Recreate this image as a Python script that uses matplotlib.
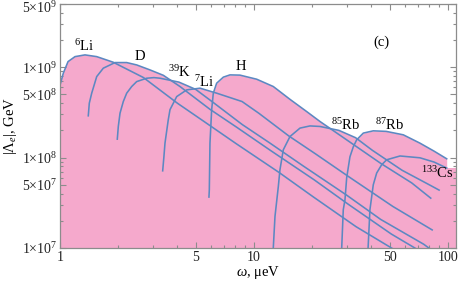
import numpy as np
import matplotlib
matplotlib.use("Agg")
import matplotlib.pyplot as plt
import matplotlib.ticker as ticker
import matplotlib.transforms as mtransforms

plt.rcParams['font.family'] = ['Liberation Serif', 'DejaVu Serif']
plt.rcParams['mathtext.fontset'] = 'custom'
plt.rcParams['mathtext.rm'] = 'Liberation Serif'
plt.rcParams['mathtext.it'] = 'Liberation Serif:italic'

# omega in micro-eV, |Lambda_e| in GeV
w_li6 = [0.98, 1.0, 1.04, 1.10, 1.195, 1.345, 1.546, 1.88, 2.69, 4.04, 5.38, 8.07, 13.45, 20.2, 33.6, 56]
L_li6 = [5.2e8, 6.31e8, 8.59e8, 1.153e9, 1.309e9, 1.368e9, 1.309e9, 1.135e9, 7.69e8, 3.98e8, 2.61e8,
         1.432e8, 6.86e7, 3.68e7, 1.72e7, 8.9e6]

w_d = [1.399, 1.416, 1.457, 1.546, 1.672, 1.921, 2.207, 2.485, 2.91, 3.41, 4.16, 5.92, 8.16, 12.24,
       20.4, 30.6, 51, 70]
L_d = [2.90e8, 4.00e8, 5.16e8, 7.87e8, 9.75e8, 1.125e9, 1.125e9, 1.059e9, 9.33e8, 8.13e8, 6.10e8,
       3.43e8, 2.16e8, 1.189e8, 5.69e7, 3.05e7, 1.429e7, 9.55e6]

w_k39 = [1.974, 1.998, 2.039, 2.12, 2.207, 2.342, 2.485, 2.80, 3.05, 3.28, 4.1, 5.0, 6.12, 8.7, 12,
         18, 30, 45, 75, 82]
L_k39 = [1.60e8, 2.21e8, 3.10e8, 4.17e8, 5.16e8, 6.11e8, 6.93e8, 7.55e8, 7.67e8, 7.55e8, 6.84e8,
         5.69e8, 4.12e8, 2.32e8, 1.462e8, 8.04e7, 3.85e7, 2.07e7, 1.10e7, 9.55e6]

w_li7 = [3.383, 3.43, 3.477, 3.615, 3.69, 3.996, 4.50, 5.27, 6.42, 8.68, 10.6, 15.1, 20.8, 31.2, 52, 82.9]
L_li7 = [7.14e7, 1.0e8, 1.445e8, 2.62e8, 3.39e8, 4.73e8, 5.61e8, 5.86e8, 5.16e8, 4.17e8, 3.09e8,
         1.738e8, 1.096e8, 6.03e7, 2.88e7, 1.585e7]

w_h = [5.86, 5.885, 5.93, 6.05, 6.17, 6.42, 6.95, 7.52, 8.47, 10.33, 12.58, 15.33, 18.69, 21.88,
       30.1, 45.1, 65, 81.5]
L_h = [3.66e7, 4.41e7, 1.445e8, 3.37e8, 5.16e8, 6.65e8, 7.76e8, 8.22e8, 8.17e8, 7.36e8, 6.11e8,
       4.41e8, 3.23e8, 2.51e8, 1.567e8, 8.61e7, 5.25e7, 3.56e7]

w_rb85 = [12.56, 12.83, 13.35, 13.61, 14.16, 15.33, 17.27, 19.44, 21.88, 27.4, 33.4, 40.8, 58, 80, 90]
L_rb85 = [9.55e6, 2.23e7, 4.79e7, 7.33e7, 1.219e8, 1.71e8, 2.12e8, 2.24e8, 2.21e8, 2.00e8, 1.66e8,
          1.202e8, 7.24e7, 5.01e7, 4.37e7]

w_rb87 = [28.3, 28.86, 29.45, 30.05, 31.24, 32.5, 33.84, 36.6, 41.2, 48, 58.85, 71.7, 85, 98.5]
L_rb87 = [9.55e6, 2.65e7, 3.42e7, 5.98e7, 1.021e8, 1.315e8, 1.574e8, 1.866e8, 1.977e8, 1.95e8,
          1.786e8, 1.445e8, 1.175e8, 9.70e7]

w_cs = [38.7, 39.3, 39.6, 41.2, 42.9, 45.5, 48.3, 56.6, 71.7, 85, 98.5]
L_cs = [9.55e6, 1.888e7, 2.65e7, 5.0e7, 6.75e7, 8.32e7, 9.46e7, 1.042e8, 9.95e7, 8.91e7, 7.66e7]

curves = [(w_li6, L_li6), (w_d, L_d), (w_k39, L_k39), (w_li7, L_li7), (w_h, L_h),
          (w_rb85, L_rb85), (w_rb87, L_rb87), (w_cs, L_cs)]

labels = [r'$^{6}$Li', 'D', r'$^{39}$K', r'$^{7}$Li', 'H', r'$^{85}$Rb', r'$^{87}$Rb', r'$^{133}$Cs']
label_w = [1.33, 2.58, 4.11, 5.53, 8.57, 29.8, 50.3, 87.8]
label_L = [1.72e9, 1.30e9, 8.87e8, 6.89e8, 1.007e9, 2.30e8, 2.30e8, 6.8e7]

x_max = 110
pink = '#f5a9cc'
blue = '#5c88c2'
frame = '#8c8c8c'

fig = plt.figure(figsize=(4.63, 2.81), dpi=100)
ax = fig.add_axes([60 / 463, 1 - 248 / 281, 396 / 463, 244 / 281])

for w, L in curves:
    ax.fill_between(w, L, 1e6, color=pink, lw=0, zorder=1)
# shading carries on to the frame after the last curve
ax.fill_between([w_cs[-1], x_max], L_cs[-1], 1e6, color=pink, lw=0, zorder=1)
for w, L in curves:
    ax.plot(w, L, color=blue, lw=1.15, zorder=2, solid_joinstyle='round')

for txt, x, y in zip(labels, label_w, label_L):
    ax.text(x, y, txt, fontsize=10.5, ha='center', va='center', zorder=3)
ax.text(45.3, 1.9e9, '(c)', fontsize=10.5, ha='center', va='center')

ax.set_xscale('log')
ax.set_yscale('log')
ax.set_xlim(1, x_max)
ax.set_ylim(1e7, 5e9)

ax.set_xticks([1, 5, 10, 50, 100])
ax.set_xticklabels(['1', '5', '10', '50', '100'])
ax.xaxis.set_minor_locator(ticker.LogLocator(base=10, subs=np.arange(1, 10)))
ax.xaxis.set_minor_formatter(ticker.NullFormatter())
ax.set_yticks([1e7, 5e7, 1e8, 5e8, 1e9, 5e9])
ax.set_yticklabels([r'$1{\times}10^{7}$', r'$5{\times}10^{7}$', r'$1{\times}10^{8}$',
                    r'$5{\times}10^{8}$', r'$1{\times}10^{9}$', r'$5{\times}10^{9}$'])
ax.yaxis.set_minor_locator(ticker.LogLocator(base=10, subs=np.arange(1, 10)))
ax.yaxis.set_minor_formatter(ticker.NullFormatter())

ax.tick_params(which='both', direction='in', top=True, right=True, color=frame,
               labelsize=10, labelcolor='#222222', width=0.8)
ax.tick_params(which='major', length=4, pad=2)
ax.tick_params(which='minor', length=2)
for s in ax.spines.values():
    s.set_color(frame)
    s.set_linewidth(0.9)

# nudge the top y label so it stays inside the figure
top_lab = ax.get_yticklabels()[-1]
top_lab.set_transform(top_lab.get_transform() +
                      mtransforms.ScaledTranslation(0, -2 / 72, fig.dpi_scale_trans))

ax.set_xlabel(r'$\omega$, $\mathrm{\mu}$eV', fontsize=10.5, labelpad=0)
ax.set_ylabel(r'$|\Lambda_e|$, GeV', fontsize=10.5, labelpad=2)

fig.savefig('out.png', dpi=100)
